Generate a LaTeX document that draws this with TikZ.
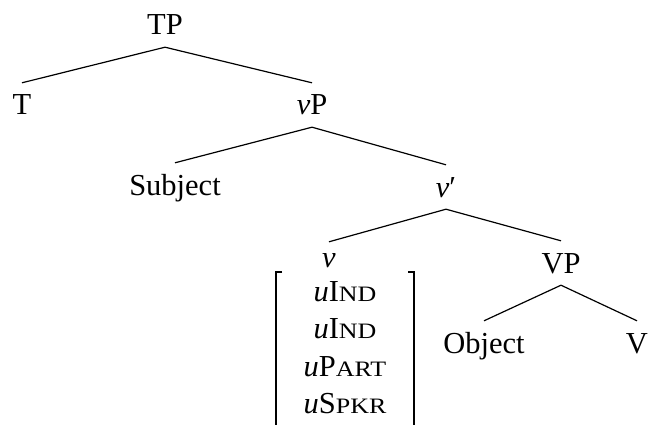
\documentclass[tikz,border=0pt]{standalone}
\usepackage{fontspec}
\setmainfont{Liberation Serif}
\newfontfamily\scfont[FakeStretch=1.18]{Liberation Serif}
\newcommand{\fsc}[1]{{\fontsize{22}{26}\scfont #1}}
\begin{document}
\begin{tikzpicture}[x=1pt,y=-1pt,
  lab/.style={anchor=base, inner xsep=0pt, inner ysep=12pt, text height=20pt, text depth=0pt, font=\fontsize{30.5}{36}\selectfont},
  labx/.style={lab, text height=13pt},
  feat/.style={anchor=base, inner sep=0pt, font=\fontsize{30.5}{36}\selectfont},
  edge/.style={line width=1.2pt},
  brak/.style={line width=2pt}]
\useasboundingbox (0,0) rectangle (648,425);
\node[lab] (TP) at (165,35) {TP};
\node[lab] (T) at (22,115) {T};
\node[lab] (vP) at (312,115) {\textit{v}P};
\node[lab] (Subj) at (175,195) {Subject};
\node[lab] (vbar) at (446,197) {\textit{v}′};
\node[labx] (v) at (329,267) {\textit{v}};
\node[lab] (VP) at (561,273) {VP};
\node[lab] (Obj) at (484,353) {Object};
\node[lab] (V) at (637,353) {V};
\node[feat] (f1) at (345,301) {\textit{u}I\fsc{ND}};
\node[feat] (f2) at (345,338) {\textit{u}I\fsc{ND}};
\node[feat] (f3) at (345,376) {\textit{u}P\fsc{ART}};
\node[feat] (f4) at (345,413) {\textit{u}S\fsc{PKR}};
\draw[edge] (TP.south) -- (T.north);
\draw[edge] (TP.south) -- (vP.north);
\draw[edge] (vP.south) -- (Subj.north);
\draw[edge] (vP.south) -- (vbar.north);
\draw[edge] (vbar.south) -- (v.north);
\draw[edge] (vbar.south) -- (VP.north);
\draw[edge] (VP.south) -- (Obj.north);
\draw[edge] (VP.south) -- (V.north);
\draw[brak] (282,272) -- (276,272) -- (276,427);
\draw[brak] (408,272) -- (414,272) -- (414,427);
\end{tikzpicture}
\end{document}
